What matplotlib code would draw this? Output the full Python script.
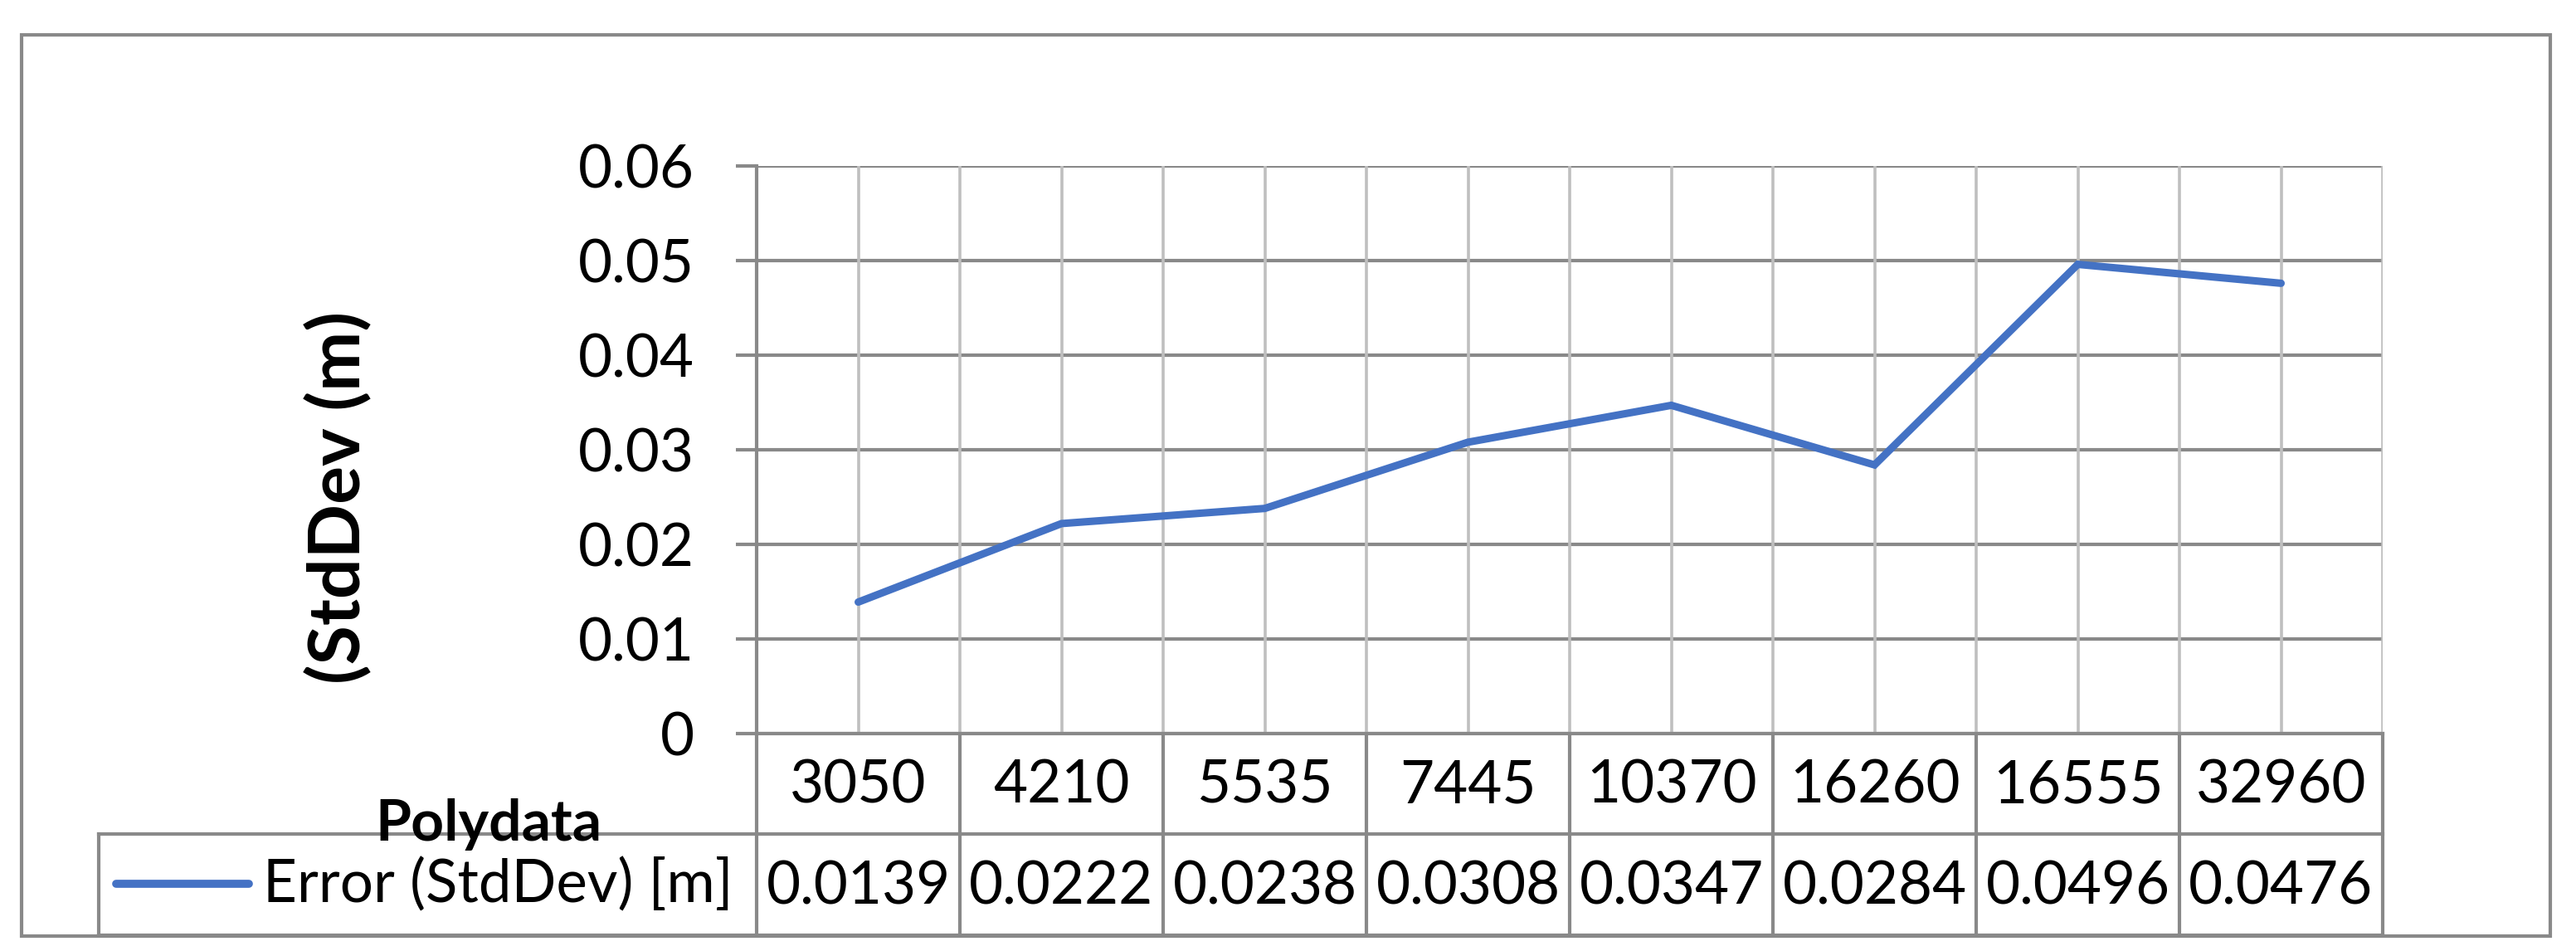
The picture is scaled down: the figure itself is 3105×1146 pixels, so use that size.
import numpy as np
import matplotlib
matplotlib.use("Agg")
from matplotlib import pyplot as plt
from matplotlib.patches import Rectangle

plt.rcParams['font.family'] = ['Lato', 'DejaVu Sans']

# data
polydata = [3050, 4210, 5535, 7445, 10370, 16260, 16555, 32960]
error_std = [0.0139, 0.0222, 0.0238, 0.0308, 0.0347, 0.0284, 0.0496, 0.0476]
y_ticks = [0, 0.01, 0.02, 0.03, 0.04, 0.05, 0.06]
y_tick_labels = ['0', '0.01', '0.02', '0.03', '0.04', '0.05', '0.06']
series_name = 'Error (StdDev) [m]'
y_label = '(StdDev (m)'
x_label = 'Polydata'

W, H = 3105, 1146
DARK = '#898989'
LIGHT = '#BFBFBF'
BLUE = '#4472C4'
FS = 51

# layout in pixels
left, right, top, bottom = 912, 2872, 200, 884
row1_bot = 1005
row2_bot = 1127
legend_left = 119

fig = plt.figure(figsize=(W / 100, H / 100), dpi=100)

# overlay for table, border and free text (pixel coords)
frame = fig.add_axes([0, 0, 1, 1], zorder=0)
frame.set_xlim(0, W)
frame.set_ylim(H, 0)
frame.axis('off')

ax = fig.add_axes([left / W, 1 - bottom / H, (right - left) / W, (bottom - top) / H], zorder=1)
ax.patch.set_alpha(0)
n = len(polydata)
ax.set_xlim(0, n)
ax.set_ylim(0, 0.06)
ax.set_axisbelow(True)

ax.vlines(np.arange(0.5, n + 0.5, 0.5), 0, 0.06, color=LIGHT, lw=2.6, zorder=1)
ax.yaxis.grid(True, color=DARK, lw=3, zorder=1.5)
ax.plot(np.arange(n) + 0.5, error_std, color=BLUE, lw=6.5,
        solid_capstyle='round', solid_joinstyle='miter', zorder=3)

ax.set_yticks(y_ticks)
ax.set_yticklabels(y_tick_labels)
ax.set_xticks([])
ax.tick_params(axis='y', length=18, width=3, color=DARK, labelsize=FS, pad=36)
for s in ['top', 'right']:
    ax.spines[s].set_visible(False)
for s in ['left', 'bottom']:
    ax.spines[s].set_color(DARK)
    ax.spines[s].set_linewidth(3)

ax.set_ylabel(y_label, fontsize=62, fontweight='bold')
ax.yaxis.set_label_coords((449 - left) / (right - left), (bottom - 600) / (bottom - top))

# data table
colw = (right - left) / n
edges = [left + k * colw for k in range(n + 1)]
lk = dict(color=DARK, lw=3, solid_capstyle='projecting')
for x in edges:
    frame.plot([x, x], [bottom, row2_bot], **lk)
frame.plot([legend_left, legend_left], [row1_bot, row2_bot], **lk)
frame.plot([legend_left, right], [row1_bot, row1_bot], **lk)
frame.plot([legend_left, right], [row2_bot, row2_bot], **lk)

for k in range(n):
    cx = (edges[k] + edges[k + 1]) / 2
    frame.text(cx, (bottom + row1_bot) / 2 + 3, str(polydata[k]), fontsize=FS,
               ha='center', va='center')
    frame.text(cx, (row1_bot + row2_bot) / 2 + 3, '%.4f' % error_std[k], fontsize=FS,
               ha='center', va='center')

frame.plot([140, 300], [1065, 1065], color=BLUE, lw=7, solid_capstyle='round')
frame.text(317, 1066, series_name, fontsize=FS, ha='left', va='center')

frame.text(589, 1013, x_label, fontsize=50, fontweight='bold', ha='center', va='baseline')

frame.add_patch(Rectangle((26, 42), 3074 - 26, 1128 - 42, fill=False,
                          edgecolor=DARK, lw=3))

fig.savefig('out.png', dpi=100)
